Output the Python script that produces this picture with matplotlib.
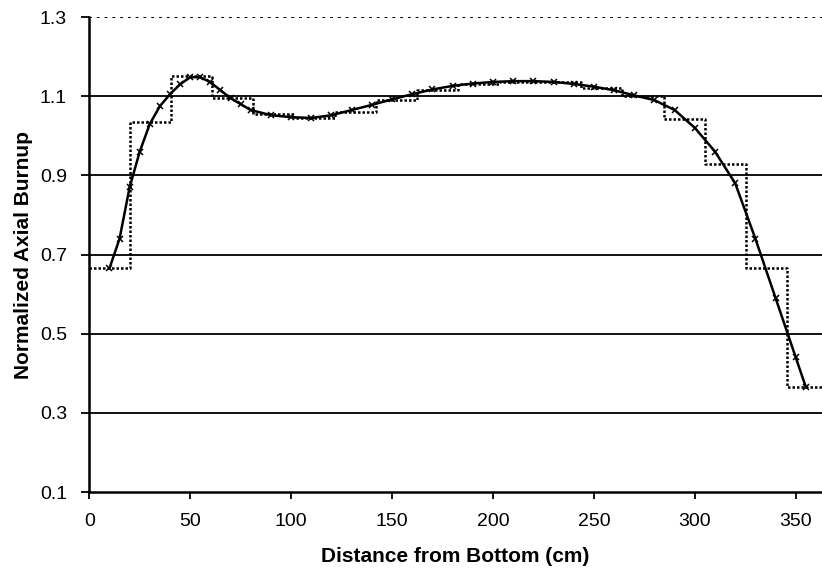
import matplotlib
matplotlib.use("Agg")
import matplotlib.pyplot as plt
import numpy as np

plt.rcParams['font.family'] = ['Liberation Sans', 'DejaVu Sans']

# 18 axial nodes over 365.76 cm (12 ft)
edges = np.linspace(0, 365.76, 19)
node_burnup = [0.665, 1.035, 1.15, 1.095, 1.055, 1.045, 1.06, 1.09, 1.115,
               1.13, 1.135, 1.135, 1.12, 1.10, 1.042, 0.928, 0.665, 0.365]

# fitted continuous profile
curve_x = [10, 15, 20, 25, 30, 35, 40, 45, 50, 55, 60, 65, 70, 75, 80, 90, 100,
           110, 120, 130, 140, 150, 160, 170, 180, 190, 200, 210, 220, 230,
           240, 250, 260, 270, 280, 290, 300, 310, 320, 330, 340, 350, 355]
curve_y = [0.665, 0.74, 0.87, 0.96, 1.03, 1.075, 1.105, 1.13, 1.148, 1.148, 1.135,
           1.115, 1.095, 1.08, 1.065, 1.052, 1.047, 1.045, 1.052, 1.065, 1.078,
           1.092, 1.105, 1.117, 1.126, 1.132, 1.136, 1.138, 1.138, 1.136, 1.131,
           1.124, 1.115, 1.102, 1.09, 1.065, 1.02, 0.96, 0.88, 0.74, 0.59, 0.44, 0.365]

fig = plt.figure(figsize=(8.22, 5.75), dpi=100)
ax = fig.add_axes([0.1086, 0.1443, 0.8914, 0.8261])

for yv in [0.3, 0.5, 0.7, 0.9, 1.1]:
    ax.axhline(yv, color='black', lw=1.3, zorder=1)
ax.axhline(1.3, color='black', lw=1.4, ls=(0, (1.5, 2.5)), zorder=1)

steps_y = node_burnup + [node_burnup[-1]]
ax.step(edges, steps_y, where='post', color='black', lw=1.8,
        ls=(0, (1, 0.8)), zorder=2)
ax.plot(curve_x, curve_y, color='black', lw=1.8, marker='x', ms=5, mew=1.1,
        zorder=3)

ax.set_xlim(0, 363)
ax.set_ylim(0.1, 1.3)
ax.set_xticks([0, 50, 100, 150, 200, 250, 300, 350])
ax.set_yticks([0.1, 0.3, 0.5, 0.7, 0.9, 1.1, 1.3])
ax.set_yticklabels(['0.1', '0.3', '0.5', '0.7', '0.9', '1.1', '1.3'])
ax.tick_params(axis='both', labelsize=14, color='black', width=1.3)
ax.tick_params(axis='x', length=5, pad=10)
ax.tick_params(axis='y', length=6, pad=10)

for s in ['top', 'right']:
    ax.spines[s].set_visible(False)
for s in ['left', 'bottom']:
    ax.spines[s].set_linewidth(1.8)

ax.set_xlabel('Distance from Bottom (cm)', fontsize=15, fontweight='bold',
              labelpad=12)
ax.set_ylabel('Normalized Axial Burnup', fontsize=15, fontweight='bold',
              labelpad=5)

fig.savefig('out.png', dpi=100)
